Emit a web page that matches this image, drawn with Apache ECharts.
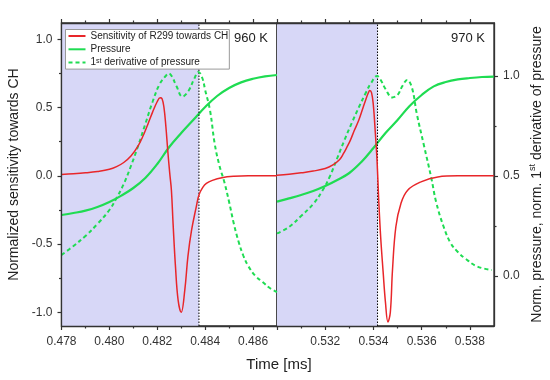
<!DOCTYPE html>
<html><head><meta charset="utf-8">
<script src="https://cdn.jsdelivr.net/npm/echarts@6/dist/echarts.min.js"></script>
<style>html,body{margin:0;padding:0;background:#fff}#c{width:550px;height:380px}</style>
</head><body><div id="c"></div>
<script>
// ---- data (x in ms) ----
const sens960 = [[0.4780,0.010],[0.4785,0.015],[0.4790,0.022],[0.4795,0.032],[0.4800,0.048],[0.4803,0.068],[0.4806,0.098],[0.4809,0.145],[0.4812,0.22],[0.4814,0.29],[0.4816,0.375],[0.4818,0.465],[0.4820,0.545],[0.48212,0.572],[0.4822,0.565],[0.48228,0.50],[0.48236,0.36],[0.48244,0.18],[0.48252,0.02],[0.48259,-0.105],[0.48266,-0.35],[0.48276,-0.665],[0.48287,-0.91],[0.4830,-1.0],[0.48315,-0.835],[0.48328,-0.59],[0.48343,-0.40],[0.48363,-0.225],[0.48374,-0.14],[0.4839,-0.085],[0.48405,-0.055],[0.4843,-0.033],[0.4847,-0.013],[0.4852,-0.003],[0.4858,0.0],[0.4870,0.0]];
const pres960 = [[0.4780,0.305],[0.4785,0.315],[0.4790,0.327],[0.4795,0.345],[0.4800,0.370],[0.4805,0.402],[0.4810,0.440],[0.4815,0.490],[0.4820,0.560],[0.4825,0.645],[0.4830,0.715],[0.4835,0.780],[0.4840,0.845],[0.4845,0.900],[0.4850,0.940],[0.4855,0.968],[0.4860,0.986],[0.4865,0.998],[0.4870,1.005]];
const deriv960 = [[0.4780,0.105],[0.4785,0.15],[0.4790,0.20],[0.4795,0.26],[0.4800,0.33],[0.4803,0.39],[0.4806,0.46],[0.4809,0.55],[0.4812,0.65],[0.4815,0.76],[0.4818,0.87],[0.4821,0.96],[0.48235,1.0],[0.48248,1.013],[0.4826,1.0],[0.4828,0.95],[0.48305,0.897],[0.4833,0.925],[0.48352,0.98],[0.48372,1.02],[0.48388,0.99],[0.4840,0.93],[0.4842,0.83],[0.4844,0.66],[0.4846,0.55],[0.4848,0.47],[0.4850,0.37],[0.4852,0.26],[0.4854,0.17],[0.4856,0.10],[0.4858,0.05],[0.4861,0.0],[0.4864,-0.03],[0.4867,-0.06],[0.4870,-0.08]];
const sens970 = [[0.5300,0.005],[0.5305,0.012],[0.5310,0.022],[0.5315,0.035],[0.5320,0.054],[0.5323,0.078],[0.5326,0.12],[0.53276,0.164],[0.5329,0.21],[0.53304,0.26],[0.5332,0.33],[0.53339,0.407],[0.53355,0.49],[0.53367,0.553],[0.53378,0.605],[0.53385,0.626],[0.53392,0.61],[0.53399,0.53],[0.53408,0.31],[0.53415,0.11],[0.53422,-0.18],[0.5343,-0.45],[0.5344,-0.70],[0.5345,-0.93],[0.5346,-1.07],[0.5347,-1.0],[0.53479,-0.69],[0.53493,-0.373],[0.53514,-0.202],[0.53542,-0.105],[0.53597,-0.044],[0.53667,-0.008],[0.5375,0.0],[0.5390,0.0]];
const pres970 = [[0.5300,0.372],[0.5305,0.388],[0.5310,0.405],[0.5315,0.425],[0.5320,0.450],[0.5325,0.480],[0.5330,0.515],[0.5335,0.570],[0.5340,0.640],[0.5345,0.715],[0.5350,0.780],[0.5355,0.850],[0.5360,0.905],[0.5365,0.948],[0.5370,0.970],[0.5375,0.983],[0.5380,0.990],[0.5385,0.995],[0.5390,0.997]];
const deriv970 = [[0.5300,0.213],[0.5305,0.245],[0.5310,0.30],[0.5315,0.36],[0.5319,0.43],[0.5322,0.50],[0.5325,0.59],[0.5328,0.68],[0.5331,0.765],[0.5334,0.845],[0.5337,0.92],[0.5339,0.965],[0.53415,1.0],[0.5343,0.98],[0.5345,0.935],[0.53478,0.893],[0.5350,0.905],[0.5352,0.95],[0.5354,0.98],[0.5356,0.94],[0.5358,0.81],[0.5361,0.65],[0.5364,0.49],[0.5366,0.37],[0.5369,0.25],[0.5372,0.165],[0.5375,0.12],[0.5378,0.088],[0.5383,0.048],[0.5389,0.03]];
const ignition960 = 0.48374, ignition970 = 0.53417;
const xMajorL = [0.478,0.480,0.482,0.484,0.486], xMinorL = [0.479,0.481,0.483,0.485];
const xMajorR = [0.532,0.534,0.536,0.538], xMinorR = [0.531,0.533,0.535,0.537];
const ySensMajor = [-1.0,-0.5,0.0,0.5,1.0], ySensMinor = [-0.75,-0.25,0.25,0.75];
const yPresMajor = [0.0,0.5,1.0], yPresMinor = [0.25,0.75];
const tempLabels = ['960 K','970 K'];
const names = ['Sensitivity of R299 towards CH','Pressure','1st derivative of pressure'];

const FONT = 'Liberation Sans, Arial, sans-serif';
const AX = '#333';
const RED = '#e8262a', GREEN = '#1fdc52', SHADE = '#d7d7f7';
const SMIN=-1.1, SMAX=1.12, PMIN=-0.25, PMAX=1.265;

function ticks(vals,len){ return vals.length ? {show:true, inside:false, length:len, customValues:vals, lineStyle:{color:AX,width:1.2}} : {show:false}; }
function labels(vals,fmt,margin){ return vals ? {show:true, customValues:vals, formatter:fmt, fontSize:12, color:'#333', fontFamily:FONT, margin:margin} : {show:false}; }
const fx = v=>v.toFixed(3), fy = v=>v.toFixed(1);

function xAx(grid, min, max, pos, vals, lab, len, line){
  return {type:'value', gridIndex:grid, min:min, max:max, position:pos, z:10,
    axisLine:{show:line, onZero:false, lineStyle:{color:AX,width:1.3}},
    axisTick:ticks(vals,len), axisLabel:labels(lab,fx,10), splitLine:{show:false}};
}
function yAx(grid, min, max, pos, vals, lab, len, line, extra){
  return Object.assign({type:'value', gridIndex:grid, min:min, max:max, position:pos, z:10,
    axisLine:{show:line, onZero:false, lineStyle:{color:AX,width:1.3}},
    axisTick:ticks(vals,len), axisLabel:labels(lab,fy,9), splitLine:{show:false}}, extra||{});
}

const chart = echarts.init(document.getElementById('c'), null, {renderer:'canvas'});
const lineBase = {type:'line', showSymbol:false, symbol:'none', smooth:0.4, animation:false};
function shade(x0,x1){ return {silent:true, itemStyle:{color:SHADE}, data:[[{xAxis:x0},{xAxis:x1}]]}; }

chart.setOption({
  animation:false,
  grid:[{left:61.5,top:23,width:215.5,height:303,show:true,borderColor:AX,borderWidth:1.3,backgroundColor:'transparent'},
        {left:277,top:23,width:217,height:303,show:true,borderColor:AX,borderWidth:1.3,backgroundColor:'transparent'}],
  xAxis:[
    xAx(0,0.478,0.487,'bottom',xMajorL,xMajorL,4,true),
    xAx(0,0.478,0.487,'bottom',xMinorL,null,2.5,false),
    xAx(0,0.478,0.487,'top',xMinorL,null,2.5,false),
    xAx(0,0.478,0.487,'top',xMajorL,null,4,true),
    xAx(1,0.530,0.539,'bottom',[0.530].concat(xMajorR),xMajorR,4,true),
    xAx(1,0.530,0.539,'bottom',xMinorR,null,2.5,false),
    xAx(1,0.530,0.539,'top',xMinorR,null,2.5,false),
    xAx(1,0.530,0.539,'top',[0.530].concat(xMajorR),null,4,true)
  ],
  yAxis:[
    yAx(0,SMIN,SMAX,'left',ySensMajor,ySensMajor,4,true,{name:'Normalized sensitivity towards CH',nameLocation:'middle',nameGap:40,nameTextStyle:{fontSize:14,color:'#222',fontFamily:FONT}}),
    yAx(0,PMIN,PMAX,'right',[],null,0,false),
    yAx(0,SMIN,SMAX,'left',ySensMinor,null,2.5,false),
    yAx(1,SMIN,SMAX,'left',[],null,0,false),
    yAx(1,PMIN,PMAX,'right',yPresMajor,yPresMajor,4,true,{name:'Norm. pressure, norm. 1{sup|st} derivative of pressure',nameLocation:'middle',nameGap:34,nameTextStyle:{fontSize:14,color:'#222',fontFamily:FONT,lineHeight:18,rich:{sup:{fontSize:9,lineHeight:9,verticalAlign:'top',fontFamily:FONT,color:'#222'}}}}),
    yAx(1,PMIN,PMAX,'right',yPresMinor,null,2.5,false)
  ],
  legend:{
    orient:'vertical', left:65.5, top:29.5, padding:[1,1,1,2], itemGap:2.3,
    itemWidth:17, itemHeight:8, borderColor:'#999', borderWidth:1, borderRadius:0, backgroundColor:'#fff',
    itemStyle:{opacity:0},
    data:names,
    formatter:function(n){ return n.indexOf('1st')===0 ? '1{sup|st} derivative of pressure' : n; },
    textStyle:{fontSize:10, color:'#222', fontFamily:FONT, lineHeight:11, rich:{sup:{fontSize:7,lineHeight:7,verticalAlign:'top',color:'#222',fontFamily:FONT}}}
  },
  graphic:[
    {type:'text', x:268, y:38, style:{text:tempLabels[0], fontSize:13, fontFamily:FONT, fill:'#222', align:'right', verticalAlign:'middle'}},
    {type:'text', x:485, y:38, style:{text:tempLabels[1], fontSize:13, fontFamily:FONT, fill:'#222', align:'right', verticalAlign:'middle'}},
    {type:'text', x:279, y:365, style:{text:'Time [ms]', fontSize:15, fontFamily:FONT, fill:'#222', align:'center', verticalAlign:'middle'}}
  ],
  series:[
    Object.assign({}, lineBase, {name:names[1], data:pres960, xAxisIndex:0, yAxisIndex:1, lineStyle:{color:GREEN,width:2.2}, itemStyle:{color:GREEN}, markArea:shade(0.478,ignition960), z:2}),
    {type:'line', name:'ignition960', data:[[ignition960,SMIN],[ignition960,SMAX]], xAxisIndex:0, yAxisIndex:0, showSymbol:false, symbol:'none', silent:true, lineStyle:{color:'#000',width:1,type:[1.5,1.5]}, z:2},
    Object.assign({}, lineBase, {name:names[2], data:deriv960, xAxisIndex:0, yAxisIndex:1, lineStyle:{color:GREEN,width:2,type:[4,3]}, itemStyle:{color:GREEN}, z:3}),
    Object.assign({}, lineBase, {name:names[0], data:sens960, xAxisIndex:0, yAxisIndex:0, lineStyle:{color:RED,width:1.5}, itemStyle:{color:RED}, z:4}),
    Object.assign({}, lineBase, {name:names[1], data:pres970, xAxisIndex:4, yAxisIndex:4, lineStyle:{color:GREEN,width:2.2}, itemStyle:{color:GREEN}, markArea:shade(0.530,ignition970), z:2}),
    {type:'line', name:'ignition970', data:[[ignition970,SMIN],[ignition970,SMAX]], xAxisIndex:4, yAxisIndex:3, showSymbol:false, symbol:'none', silent:true, lineStyle:{color:'#000',width:1,type:[1.5,1.5]}, z:2},
    Object.assign({}, lineBase, {name:names[2], data:deriv970, xAxisIndex:4, yAxisIndex:4, lineStyle:{color:GREEN,width:2,type:[4,3]}, itemStyle:{color:GREEN}, z:3}),
    Object.assign({}, lineBase, {name:names[0], data:sens970, xAxisIndex:4, yAxisIndex:3, lineStyle:{color:RED,width:1.5}, itemStyle:{color:RED}, z:4})
  ]
});
</script></body></html>
